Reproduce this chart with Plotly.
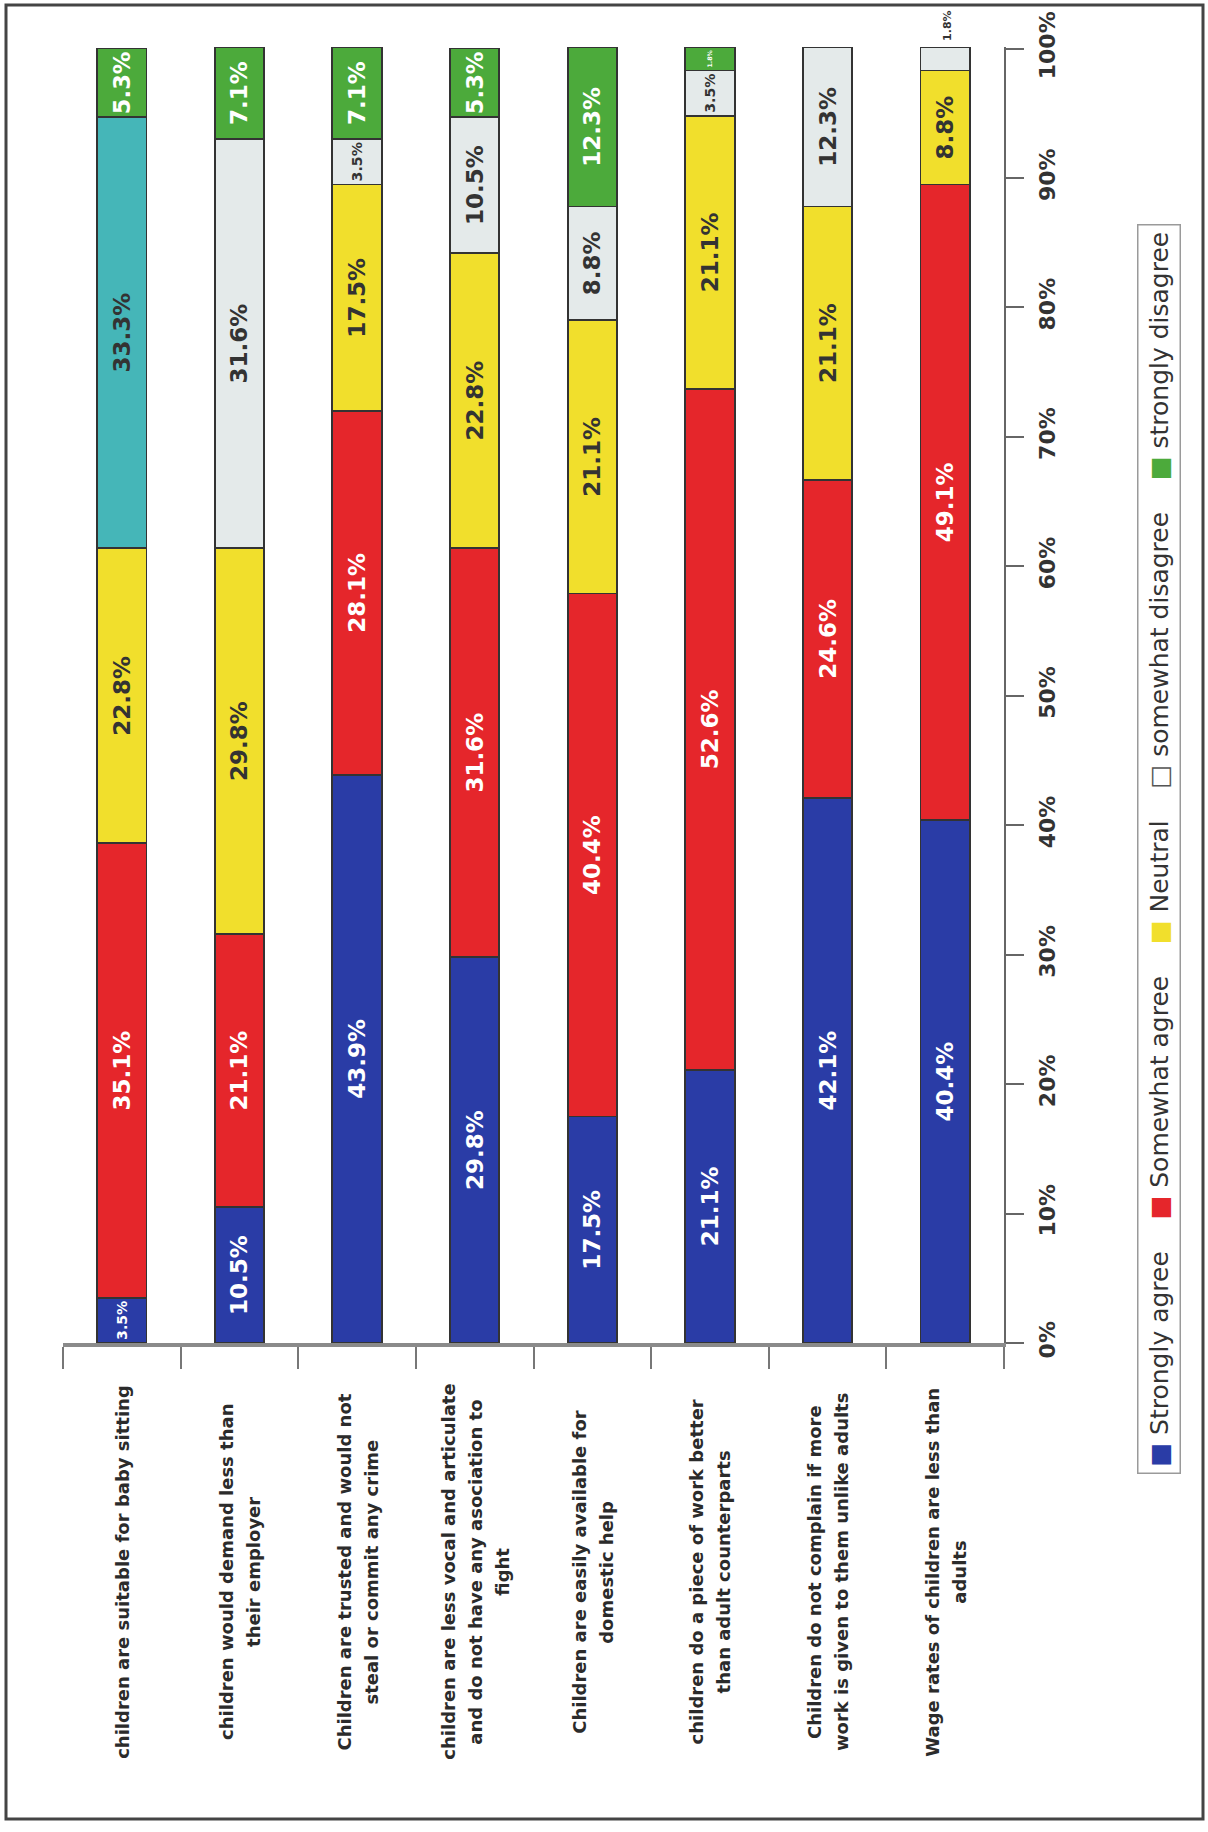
import plotly.graph_objects as go

categories = [
    "children are suitable for baby sitting",
    "children would demand less than<br>their employer",
    "Children are trusted and would not<br>steal or commit any crime",
    "children are less vocal and articulate<br>and do not have any asociation to<br>fight",
    "Children are easily available for<br>domestic help",
    "children do a piece of work better<br>than adult counterparts",
    "Children do not complain if more<br>work is given to them unlike adults",
    "Wage rates of children are less than<br>adults",
]
series_names = ["Strongly agree", "Somewhat agree", "Neutral", "somewhat disagree", "strongly disagree"]
strongly_agree = [3.5, 10.5, 43.9, 29.8, 17.5, 21.1, 42.1, 40.4]
somewhat_agree = [35.1, 21.1, 28.1, 31.6, 40.4, 52.6, 24.6, 49.1]
neutral = [22.8, 29.8, 17.5, 22.8, 21.1, 21.1, 21.1, 8.8]
somewhat_disagree = [33.3, 31.6, 3.5, 10.5, 8.8, 3.5, 12.3, 1.8]
strongly_disagree = [5.3, 7.1, 7.1, 5.3, 12.3, 1.8, 0.0, 0.0]
tick_values = [0, 10, 20, 30, 40, 50, 60, 70, 80, 90, 100]
tick_labels = ["0%", "10%", "20%", "30%", "40%", "50%", "60%", "70%", "80%", "90%", "100%"]

series_values = [strongly_agree, somewhat_agree, neutral, somewhat_disagree, strongly_disagree]
series_colors = ["#2a3ca6", "#e5262b", "#f1df2c", "#e4eaea", "#4caa3b"]
text_colors = ["white", "white", "#333333", "#333333", "white"]
highlight_color = "#45b6b8"  # first bar's "somewhat disagree" segment is drawn in teal
outside_label = (7, 3)  # (category index, series index) label drawn above the bar

W, H = 1208, 1832
L, R, T, B = 63, 1004, 47, 1343  # plot area in pixels


def px_x(x):
    return (x - L) / (R - L)


def px_y(y):
    return (B - y) / (B - T)


FONT = "DejaVu Sans"
x_idx = list(range(len(categories)))
stack_totals = [sum(vals[i] for vals in series_values) for i in x_idx]
y_top = max(100, max(stack_totals)) + 0.02

fig = go.Figure()
for si, (name, vals) in enumerate(zip(series_names, series_values)):
    texts = []
    for ci, v in enumerate(vals):
        if v <= 0 or (ci, si) == outside_label:
            texts.append("")
        else:
            texts.append(f"{v}%")
    colors = [series_colors[si]] * len(vals)
    if si == 3:
        colors[0] = highlight_color
    fig.add_trace(go.Bar(
        name=name,
        x=x_idx,
        y=vals,
        marker=dict(color=colors, line=dict(color="#333333", width=1.8)),
        text=texts,
        textposition="inside",
        insidetextanchor="middle",
        textangle=-90,
        textfont=dict(family=FONT, size=23, color=text_colors[si], weight="bold"),
        insidetextfont=dict(family=FONT, size=23, color=text_colors[si], weight="bold"),
        cliponaxis=False,
        showlegend=False,
    ))

# label drawn above the bar for the tiny top segment
ci, si = outside_label
fig.add_annotation(x=ci, y=stack_totals[ci], xref="x", yref="y", text=f"{series_values[si][ci]}%",
                   textangle=-90, showarrow=False, yanchor="bottom", xanchor="center",
                   yshift=4, xshift=3,
                   font=dict(family=FONT, size=11, color="#333333", weight="bold"))

# category labels (rotated), one annotation per line for wider line spacing
LINE_SP = 27
for i, cat in enumerate(categories):
    lines = cat.split("<br>")
    n = len(lines)
    for j, line in enumerate(lines):
        fig.add_annotation(x=i, y=px_y(1572), xref="x", yref="paper", text=line,
                           textangle=-90, showarrow=False, xanchor="center", yanchor="middle",
                           xshift=(j - (n - 1) / 2) * LINE_SP,
                           font=dict(family=FONT, size=18, color="#2b2b2b", weight="bold"))

# legend (rotated) as one annotation
legend_parts = []
for name, col in zip(series_names, series_colors):
    if name == "somewhat disagree":
        sq = "<span style='color:#555555'>□</span>"
    else:
        sq = f"<span style='color:{col}'>■</span>"
    legend_parts.append(f"{sq} {name}")
legend_text = "    ".join(legend_parts)
fig.add_annotation(x=px_x(1159), y=px_y(849), xref="paper", yref="paper", text=legend_text,
                   textangle=-90, showarrow=False, xanchor="center", yanchor="middle",
                   bordercolor="#9a9a9a", borderwidth=1.5, borderpad=6, bgcolor="white",
                   font=dict(family=FONT, size=25, color="#333333"))

# outer frame
fig.add_shape(type="rect", xref="paper", yref="paper",
              x0=px_x(6), x1=px_x(1203), y0=px_y(1819), y1=px_y(5),
              line=dict(color="#444444", width=3), fillcolor="rgba(0,0,0,0)", layer="below")

fig.update_layout(
    width=W, height=H,
    margin=dict(l=L, r=W - R, t=T, b=H - B, pad=0),
    barmode="stack",
    bargap=0.58,
    plot_bgcolor="white",
    paper_bgcolor="white",
    font=dict(family=FONT, color="#333333"),
    xaxis=dict(
        type="linear", range=[-0.5, len(categories) - 0.5],
        tickvals=[i - 0.5 for i in range(len(categories) + 1)],
        ticktext=[""] * (len(categories) + 1),
        ticks="outside", ticklen=22, tickwidth=2, tickcolor="#777777",
        showline=True, linecolor="#8a8a8a", linewidth=4,
        showgrid=False, zeroline=False,
    ),
    yaxis=dict(
        side="right", range=[0, y_top],
        tickvals=tick_values, ticktext=tick_labels, tickangle=-90,
        ticks="outside", ticklen=18, tickwidth=1.5, tickcolor="#666666",
        showline=True, linecolor="#666666", linewidth=1.5,
        showgrid=False, zeroline=False,
        tickfont=dict(family=FONT, size=22, color="#333333", weight="bold"),
        ticklabelstandoff=5,
    ),
)

fig.write_html("out.html", config={"displayModeBar": False},
               post_script="document.body.style.margin='0px';")
